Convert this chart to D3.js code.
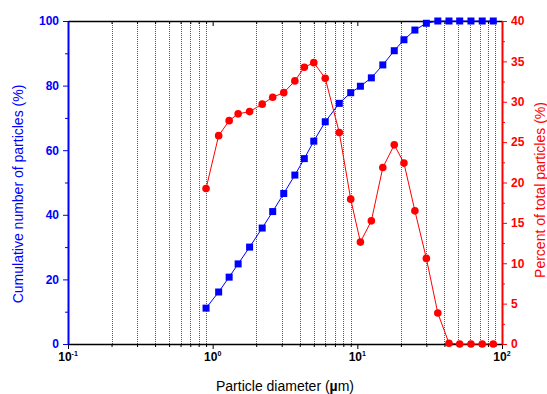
<!DOCTYPE html>
<html><head><meta charset="utf-8">
<script src="https://cdn.jsdelivr.net/npm/d3@7"></script>
<style>
body{margin:0;background:#fff;}
text{font-family:"Liberation Sans",Arial,sans-serif;}
</style></head>
<body><svg id="c" width="547" height="394"></svg>
<script>
const diameters = [0.9,1.1,1.3,1.5,1.8,2.2,2.6,3.1,3.7,4.3,5.0,6.0,7.5,9.0,10.5,12.5,15,18,21,25,30,36,43,51,61,73,87];
const cumulative = [11.1,16.1,20.7,24.8,30.0,35.9,41.0,46.6,52.3,57.4,62.8,68.8,74.5,77.8,79.8,82.4,86.4,90.8,94.2,97.2,99.3,100,100,100,100,100,100];
const percent = [19.25,25.8,27.66,28.5,28.78,29.7,30.56,31.13,32.58,34.27,34.84,32.9,26.2,17.94,12.62,15.25,21.85,24.66,22.4,16.49,10.6,3.83,0.1,0,0,0,0];
const xMajorTicks = [0.1,1,10,100];
const xTickExponents = ["-1","0","1","2"];
const leftTicks = [0,20,40,60,80,100];
const rightTicks = [0,5,10,15,20,25,30,35,40];

const L=68,R=502,T=21,B=344;
const svg=d3.select("#c");
const x=d3.scaleLog().domain([0.1,100]).range([L,R]);
const yL=d3.scaleLinear().domain([0,100]).range([B,T]);
const yR=d3.scaleLinear().domain([0,40]).range([B,T]);

const minorX=[];
[0.1,1,10].forEach(d=>{for(let k=2;k<=9;k++)minorX.push(+(k*d).toPrecision(3));});

// grid
svg.append("g").selectAll("line").data(minorX).join("line")
  .attr("x1",d=>Math.round(x(d))+0.5).attr("x2",d=>Math.round(x(d))+0.5)
  .attr("y1",T).attr("y2",B)
  .attr("stroke","#555").attr("stroke-width",1).attr("stroke-dasharray","1,1");

function styleAxis(g,color,w){
  g.select(".domain").attr("stroke",color).attr("stroke-width",w);
  g.selectAll(".tick line").attr("stroke",color).attr("stroke-width",1);
}
// bottom axis
const gb=svg.append("g").attr("transform",`translate(0,${B})`);
gb.call(d3.axisBottom(x).tickValues(minorX).tickSize(3).tickFormat("").tickSizeOuter(0));
gb.call(g=>g.selectAll(".tick line").attr("stroke","#000"));
gb.select(".domain").remove();
const gb2=svg.append("g").attr("transform",`translate(0,${B})`);
gb2.call(d3.axisBottom(x).tickValues(xMajorTicks).tickSize(5).tickFormat("").tickSizeOuter(0));
styleAxis(gb2,"#000",1.5);
// top axis
const gt=svg.append("g").attr("transform",`translate(0,${T})`);
gt.call(d3.axisTop(x).tickValues(minorX).tickSize(-3).tickFormat("").tickSizeOuter(0));
gt.select(".domain").remove();
gt.selectAll(".tick line").attr("stroke","#000");
const gt2=svg.append("g").attr("transform",`translate(0,${T})`);
gt2.call(d3.axisTop(x).tickValues(xMajorTicks).tickSize(-5).tickFormat("").tickSizeOuter(0));
styleAxis(gt2,"#000",1.5);

// x tick labels
const xl=svg.append("g").selectAll("text").data(xMajorTicks).join("text")
  .attr("x",d=>x(d)).attr("y",361).attr("text-anchor","middle")
  .attr("font-size",12).attr("font-weight","bold").attr("fill","#000");
xl.append("tspan").text("10");
xl.append("tspan").attr("dy",-5).attr("font-size",7).text((d,i)=>xTickExponents[i]);

// left axis
const leftMinor=d3.range(10,100,20);
const gl=svg.append("g").attr("transform",`translate(${L},0)`);
gl.call(d3.axisLeft(yL).tickValues(leftMinor).tickSize(3).tickFormat("").tickSizeOuter(0));
gl.select(".domain").remove();
gl.selectAll(".tick line").attr("stroke","#0000ff");
const gl2=svg.append("g").attr("transform",`translate(${L},0)`);
gl2.call(d3.axisLeft(yL).tickValues(leftTicks).tickSize(5).tickPadding(4).tickSizeOuter(0));
styleAxis(gl2,"#0000ff",2);
gl2.selectAll(".tick text").attr("fill","#0000ff").attr("font-size",12).attr("font-weight","bold")
  .attr("font-family","Liberation Sans, Arial, sans-serif");

// right axis
const rightMinor=d3.range(2.5,40,5);
const gr=svg.append("g").attr("transform",`translate(${R},0)`);
gr.call(d3.axisRight(yR).tickValues(rightMinor).tickSize(3).tickFormat("").tickSizeOuter(0));
gr.select(".domain").remove();
gr.selectAll(".tick line").attr("stroke","#ff0000");
const gr2=svg.append("g").attr("transform",`translate(${R},0)`);
gr2.call(d3.axisRight(yR).tickValues(rightTicks).tickSize(5).tickPadding(4).tickSizeOuter(0));
styleAxis(gr2,"#ff0000",2);
gr2.selectAll(".tick text").attr("fill","#ff0000").attr("font-size",12).attr("font-weight","bold")
  .attr("font-family","Liberation Sans, Arial, sans-serif");

// series
const blueData=diameters.map((d,i)=>[d,cumulative[i]]);
const redData=diameters.map((d,i)=>[d,percent[i]]);
svg.append("path").datum(blueData).attr("fill","none").attr("stroke","#0000ff").attr("stroke-width",1)
  .attr("d",d3.line().x(d=>x(d[0])).y(d=>yL(d[1])));
svg.append("g").selectAll("rect").data(blueData).join("rect")
  .attr("x",d=>x(d[0])-3.5).attr("y",d=>yL(d[1])-3.5).attr("width",7).attr("height",7).attr("fill","#0000ff");
svg.append("path").datum(redData).attr("fill","none").attr("stroke","#ff0000").attr("stroke-width",1)
  .attr("d",d3.line().x(d=>x(d[0])).y(d=>yR(d[1])));
svg.append("g").selectAll("circle").data(redData).join("circle")
  .attr("cx",d=>x(d[0])).attr("cy",d=>yR(d[1])).attr("r",3.8).attr("fill","#ff0000");

// titles
const xt=svg.append("text").attr("x",285).attr("y",391).attr("text-anchor","middle").attr("font-size",14).attr("fill","#000");
xt.append("tspan").text("Particle diameter (");
xt.append("tspan").attr("font-weight","bold").text("µ");
xt.append("tspan").text("m)");
svg.append("text").attr("transform","translate(23,194) rotate(-90)").attr("text-anchor","middle")
  .attr("font-size",14).attr("fill","#0000ff").text("Cumulative number of particles (%)");
svg.append("text").attr("transform","translate(545,190) rotate(-90)").attr("text-anchor","middle")
  .attr("font-size",14).attr("fill","#ff0000").text("Percent of total particles (%)");
</script></body></html>
